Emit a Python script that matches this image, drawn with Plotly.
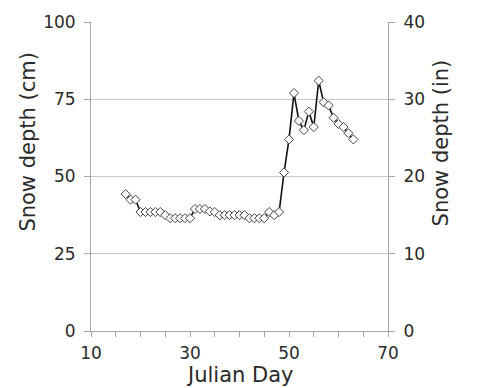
import plotly.graph_objects as go

# Data
julian_day = list(range(17, 64))
snow_depth_cm = [44.3, 42.5, 42.5, 38.5, 38.5, 38.5, 38.5, 38.5, 37.5, 36.5,
                 36.5, 36.5, 36.5, 36.5, 39.5, 39.5, 39.5, 38.7, 38.5, 37.5,
                 37.5, 37.5, 37.5, 37.5, 37.5, 36.5, 36.5, 36.5, 36.5, 38.5,
                 37.5, 38.5, 51.3, 62.0, 77.0, 68.0, 65.0, 71.0, 66.0, 81.0,
                 74.0, 73.0, 69.0, 67.0, 66.0, 64.0, 62.0]
snow_depth_in = [v / 2.5 for v in snow_depth_cm]

left_ticks = [0, 25, 50, 75, 100]
right_ticks = [0, 10, 20, 30, 40]
x_ticks = [10, 30, 50, 70]

FONT = "DejaVu Sans"
TXT = "#2a2a2a"
AXC = "#a6a6a6"
GRID = "#c8c8c8"
TICK_SIZE = 17
TITLE_SIZE = 21

fig = go.Figure()
fig.add_trace(go.Scatter(
    x=julian_day, y=snow_depth_cm, mode="lines+markers",
    line=dict(color="#111111", width=1.6),
    marker=dict(symbol="diamond", size=7, color="white",
                line=dict(color="#444444", width=1)),
    showlegend=False, hoverinfo="x+y"))
# invisible companion trace so the right axis is drawn
fig.add_trace(go.Scatter(
    x=julian_day, y=snow_depth_in, yaxis="y2", mode="lines",
    line=dict(width=0, color="rgba(0,0,0,0)"), showlegend=False,
    hoverinfo="skip"))

fig.update_layout(
    width=477, height=388,
    margin=dict(l=91, r=89, t=18, b=57),
    paper_bgcolor="white", plot_bgcolor="white",
    font=dict(family=FONT, size=TICK_SIZE, color=TXT),
    xaxis=dict(range=[10, 70], tickvals=x_ticks, ticks="outside",
               ticklen=5, tickcolor=AXC, tickwidth=1,
               showline=True, linecolor=AXC, linewidth=1,
               showgrid=False, zeroline=False, ticklabeloverflow="allow",
               ticklabelstandoff=2,
               minor=dict(dtick=5, tick0=10, ticks="outside", ticklen=5,
                          tickcolor=AXC, showgrid=False),
               tickfont=dict(family=FONT, size=TICK_SIZE, color=TXT)),
    yaxis=dict(range=[0, 100], tickvals=left_ticks, ticks="outside",
               ticklen=6, tickcolor=AXC, showline=True, linecolor=AXC,
               linewidth=1, showgrid=True, gridcolor=GRID, gridwidth=1,
               zeroline=False, ticklabeloverflow="allow",
               ticklabelstandoff=5,
               tickfont=dict(family=FONT, size=TICK_SIZE, color=TXT)),
    yaxis2=dict(range=[0, 40], tickvals=right_ticks, overlaying="y",
                side="right", ticks="outside", ticklen=6, tickcolor=AXC,
                showline=True, linecolor=AXC, linewidth=1, showgrid=False,
                zeroline=False, ticklabeloverflow="allow",
                ticklabelstandoff=5,
                tickfont=dict(family=FONT, size=TICK_SIZE, color=TXT)),
)

fig.add_annotation(text="Snow depth (cm)", xref="paper", yref="paper",
                   x=-0.212, y=0.613, textangle=-90, showarrow=False,
                   xanchor="center", yanchor="middle",
                   font=dict(family=FONT, size=TITLE_SIZE, color=TXT))
fig.add_annotation(text="Snow depth (in)", xref="paper", yref="paper",
                   x=1.178, y=0.61, textangle=-90, showarrow=False,
                   xanchor="center", yanchor="middle",
                   font=dict(family=FONT, size=TITLE_SIZE, color=TXT))
fig.add_annotation(text="Julian Day", xref="paper", yref="paper",
                   x=0.5, y=-0.144, showarrow=False,
                   xanchor="center", yanchor="middle",
                   font=dict(family=FONT, size=TITLE_SIZE, color=TXT))

fig.write_html(
    "out.html",
    config={"displayModeBar": False},
    post_script="document.body.style.margin='0';"
                "document.body.style.overflow='hidden';",
)
